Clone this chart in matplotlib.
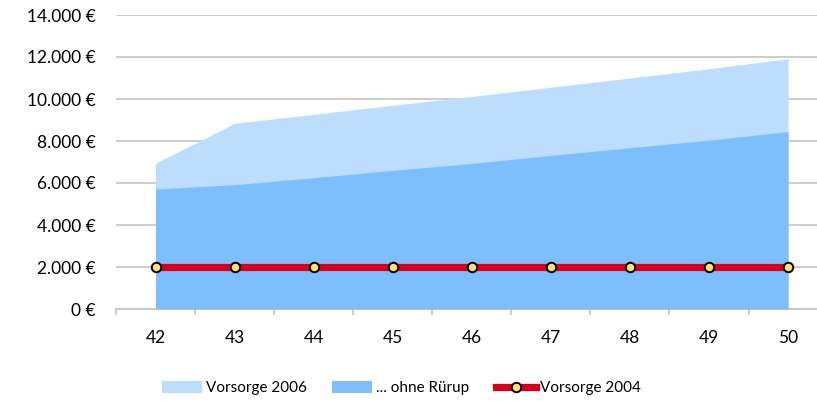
import matplotlib
matplotlib.use("Agg")
import matplotlib.pyplot as plt
from matplotlib.patches import Patch
from matplotlib.lines import Line2D
from matplotlib import font_manager

plt.rcParams['font.family'] = ['Lato', 'DejaVu Sans']

ages = [42, 43, 44, 45, 46, 47, 48, 49, 50]
vorsorge_2006 = [6940, 8840, 9270, 9700, 10120, 10560, 11000, 11440, 11920]
ohne_ruerup = [5710, 5920, 6250, 6600, 6930, 7310, 7680, 8040, 8450]
vorsorge_2004 = [2000, 2000, 2000, 2000, 2000, 2000, 2000, 2000, 2000]
y_ticks = [0, 2000, 4000, 6000, 8000, 10000, 12000, 14000]
labels = ["Vorsorge 2006", "... ohne Rürup", "Vorsorge 2004"]

c_light = "#BDDDFE"
c_mid = "#7DBEFD"
c_red = "#D9001B"
c_yellow = "#FFE36A"
c_grid = "#BFBFBF"

names = {f.name for f in font_manager.fontManager.ttflist}
if 'Liberation Sans Narrow' in names:
    leg_family, leg_size = ['Liberation Sans Narrow', 'DejaVu Sans'], 12.5
else:
    leg_family, leg_size = ['Lato', 'DejaVu Sans'], 11

W, H = 817, 401
fig = plt.figure(figsize=(W / 100, H / 100), dpi=100)
left = 116 / W
right = 827.6 / W
top = 1 - 15 / H
bottom = 1 - 309 / H
ax = fig.add_axes([left, bottom, right - left, top - bottom])

x = list(range(len(ages)))
ax.fill_between(x, 0, vorsorge_2006, color=c_light, linewidth=0, zorder=2)
ax.fill_between(x, 0, ohne_ruerup, color=c_mid, linewidth=0, zorder=3)
ax.plot(x, vorsorge_2004, color=c_red, linewidth=5.2, solid_capstyle='butt', zorder=4,
        marker='o', markersize=6.8, markerfacecolor=c_yellow, markeredgecolor='black',
        markeredgewidth=1.4)

ax.set_xlim(-0.5, len(ages) - 0.5)
ax.set_ylim(0, 14000)
ax.set_yticks(y_ticks)
ax.set_yticklabels([f"{v:,.0f} €".replace(",", ".") for v in y_ticks])
ax.yaxis.grid(True, color=c_grid, linewidth=1.1, zorder=0)
ax.set_axisbelow(True)

ax.set_xticks(x)
ax.set_xticklabels([str(a) for a in ages])
ax.set_xticks([i - 0.5 for i in range(len(ages) + 1)], minor=True)
ax.tick_params(axis='x', which='major', length=0, pad=15, labelsize=12.5)
ax.tick_params(axis='x', which='minor', length=4.5, width=1.1, color=c_grid, direction='out')
ax.tick_params(axis='y', length=0, pad=14.5, labelsize=12.5)

for s in ['top', 'right', 'left']:
    ax.spines[s].set_visible(False)
ax.spines['bottom'].set_color(c_grid)
ax.spines['bottom'].set_linewidth(1.1)

handles = [
    Patch(facecolor=c_light, edgecolor='none'),
    Patch(facecolor=c_mid, edgecolor='none'),
    Line2D([0], [0], color=c_red, linewidth=5.2, marker='o', markersize=6.8,
           markerfacecolor=c_yellow, markeredgecolor='black', markeredgewidth=1.4),
]
fpx = leg_size * 100 / 72
fig.legend(handles, labels, loc='center', bbox_to_anchor=(401 / W, 1 - 388 / H),
           ncol=3, frameon=False, prop={'family': leg_family, 'size': leg_size},
           handlelength=40 / fpx, handleheight=12 / fpx,
           handletextpad=4 / fpx, columnspacing=26 / fpx, borderpad=0)

fig.savefig("out.png", dpi=100)
